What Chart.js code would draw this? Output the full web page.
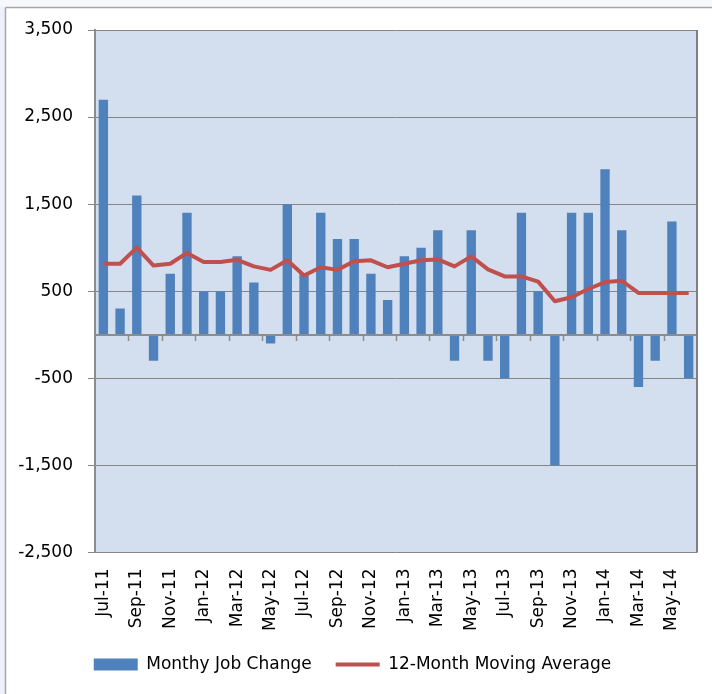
<!DOCTYPE html>
<html><head><meta charset="utf-8">
<script src="https://cdn.jsdelivr.net/npm/chart.js@4/dist/chart.umd.min.js"></script>
<style>html,body{margin:0;padding:0;background:#fff}#wrap{width:712px;height:694px;position:relative}</style>
</head><body><div id="wrap"><canvas id="c" width="712" height="694"></canvas></div>
<script>
const months = ['Jul-11','Aug-11','Sep-11','Oct-11','Nov-11','Dec-11','Jan-12','Feb-12','Mar-12','Apr-12','May-12','Jun-12',
  'Jul-12','Aug-12','Sep-12','Oct-12','Nov-12','Dec-12','Jan-13','Feb-13','Mar-13','Apr-13','May-13','Jun-13',
  'Jul-13','Aug-13','Sep-13','Oct-13','Nov-13','Dec-13','Jan-14','Feb-14','Mar-14','Apr-14','May-14','Jun-14'];
const monthlyJobChange = [2700,300,1600,-300,700,1400,500,500,900,600,-100,1500,
  700,1400,1100,1100,700,400,900,1000,1200,-300,1200,-300,
  -500,1400,500,-1500,1400,1400,1900,1200,-600,-300,1300,-500];
const movingAverage12 = [815,815,1000,795,815,940,835,835,860,785,745,855,
  680,775,745,845,855,775,815,855,865,785,900,750,
  670,670,610,385,430,525,605,620,480,480,480,480];
const seriesNames = ['Monthy Job Change','12-Month Moving Average'];
const yMin = -2500, yMax = 3500, yStep = 1000;

const FONT = {family: "'DejaVu Sans', sans-serif", size: 17};

const decor = {
  id: 'decor',
  beforeDraw(chart) {
    const {ctx, width: W, height: H, chartArea: a} = chart;
    ctx.save();
    ctx.fillStyle = '#ffffff'; ctx.fillRect(0, 0, W, H);
    ctx.fillStyle = '#edf2f9'; ctx.fillRect(0, 0, 5, H);
    ctx.fillStyle = '#f7f8fb'; ctx.fillRect(0, 0, W, 7);
    ctx.strokeStyle = '#a6a6a6'; ctx.lineWidth = 1.5;
    ctx.beginPath(); ctx.moveTo(5.5, 7.5); ctx.lineTo(5.5, H); ctx.moveTo(5.5, 7.5); ctx.lineTo(W, 7.5); ctx.stroke();
    ctx.fillStyle = '#d3dfee';
    ctx.fillRect(a.left, a.top, a.right - a.left, a.bottom - a.top);
    ctx.restore();
  },
  afterDatasetsDraw(chart) {
    const {ctx, chartArea: a, scales: {x, y}} = chart;
    const y0 = Math.round(y.getPixelForValue(0));
    ctx.save();
    ctx.strokeStyle = '#8c8c8c'; ctx.lineWidth = 2;
    ctx.beginPath(); ctx.moveTo(a.left, y0); ctx.lineTo(a.right, y0); ctx.stroke();
    ctx.lineWidth = 1.5;
    ctx.beginPath();
    for (let k = 2; k < months.length; k += 2) {
      const px = Math.round((x.getPixelForValue(k - 1) + x.getPixelForValue(k)) / 2) + 0.5;
      ctx.moveTo(px, y0); ctx.lineTo(px, y0 + 6);
    }
    ctx.stroke();
    ctx.strokeStyle = '#7f7f7f'; ctx.lineWidth = 2;
    ctx.beginPath(); ctx.moveTo(a.right, a.top); ctx.lineTo(a.right, a.bottom); ctx.stroke();
    ctx.restore();
  }
};

new Chart(document.getElementById('c'), {
  data: {
    labels: months,
    datasets: [
      {type: 'bar', label: seriesNames[0], data: monthlyJobChange, backgroundColor: '#4f81bd', borderWidth: 0,
       categoryPercentage: 1, barPercentage: 0.56, order: 2, pointStyle: 'rect'},
      {type: 'line', label: seriesNames[1], data: movingAverage12, borderColor: '#c0504d', backgroundColor: '#c0504d',
       borderWidth: 4, pointRadius: 0, tension: 0, order: 1, pointStyle: 'line', borderJoinStyle: 'round'}
    ]
  },
  options: {
    responsive: false, animation: false, devicePixelRatio: 1,
    layout: {padding: {left: 8, right: 15, top: 30, bottom: 11}},
    plugins: {
      tooltip: {enabled: false},
      legend: {position: 'bottom',
        labels: {usePointStyle: true, pointStyleWidth: 44, boxHeight: 12, font: FONT, color: '#000', padding: 24,
          sort: (a, b) => a.datasetIndex - b.datasetIndex}}
    },
    scales: {
      x: {
        afterFit: s => { s.paddingLeft = 0; s.paddingRight = 0; s.height -= 15; },
        grid: {display: false, drawTicks: false}, border: {display: false},
        ticks: {autoSkip: false, maxRotation: 90, minRotation: 90, padding: 16, font: FONT, color: '#000',
          callback: (v, i) => (i % 2 === 0 ? months[i] : '')}
      },
      y: {
        min: yMin, max: yMax,
        afterFit: s => { s.width = 87; },
        grid: {color: '#868686', lineWidth: 1, tickLength: 7},
        border: {display: true, color: '#8c8c8c', width: 2},
        ticks: {stepSize: yStep, padding: 15, font: FONT, color: '#000',
          callback: v => Number(v).toLocaleString('en-US')}
      }
    }
  },
  plugins: [decor]
});
</script></body></html>
